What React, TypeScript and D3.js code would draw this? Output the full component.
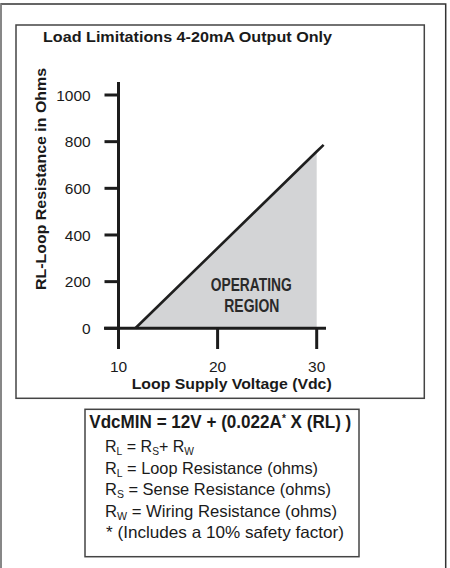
import React from 'react';
import * as d3 from 'd3';

const chartTitle = "Load Limitations 4-20mA Output Only";
const yTitle = "RL-Loop Resistance in Ohms";
const xTitle = "Loop Supply Voltage (Vdc)";
const regionLabel = ["OPERATING", "REGION"];

const voltTicks = [10, 20, 30];
const ohmTicks = [0, 200, 400, 600, 800, 1000];

// limit line: volts -> max loop resistance
const limitVolts = [11.7, 30, 30.7];
const limitOhms = [0, 758, 786];
// operating region is shaded up to 30 V only
const regionEnd = 30;

const W = 450;
const H = 568;
const sans = "'Liberation Sans', Arial, sans-serif";

function App() {
    const x = d3.scaleLinear().domain([10, 30]).range([118.5, 316.7]);
    const y = d3.scaleLinear().domain([0, 1000]).range([328.3, 95]);

    const pts = limitVolts.map((v, i) => ({ v, r: limitOhms[i] }));
    const regionPts = pts.filter(d => d.v <= regionEnd);

    const line = d3.line<{ v: number, r: number }>()
        .x(d => x(d.v))
        .y(d => y(d.r));

    const area = d3.area<{ v: number, r: number }>()
        .x(d => x(d.v))
        .y0(y(0))
        .y1(d => y(d.r));

    const axisColor = "#1c1c1c";
    // the reference uses a condensed face, squeeze Liberation Sans to the same widths
    const squeeze = { lengthAdjust: "spacingAndGlyphs" as const };
    const sub = (t: string) => (
        <tspan fontSize="10.5" dy="3">{t}</tspan>
    );

    return (
        <svg width={W} height={H} style={{ position: 'absolute', left: 0, top: 0, background: '#fff' }}>
            {/* outer frame */}
            <path d={`M1,${H} V4 H445.7 V${H}`} fill="none" stroke="#333" strokeWidth="1.5" />
            <line x1="1" y1="4" x2="1" y2={H} stroke="#aaa" strokeWidth="1" />

            {/* chart box */}
            <rect x="16" y="25" width="408.3" height="373.3" fill="none" stroke="#444" strokeWidth="1.5" />

            <text x="43" y="41.5" fontFamily={sans} fontWeight="bold" fontSize="15.5" fill="#1a1a1a" textLength="289" {...squeeze}>{chartTitle}</text>

            {/* operating region */}
            <path d={area(regionPts) || ''} fill="#d3d4d6" />

            {/* axes */}
            <line x1={x(10)} y1="82" x2={x(10)} y2="349" stroke={axisColor} strokeWidth="3" />
            <line x1="104" y1={y(0)} x2="326" y2={y(0)} stroke={axisColor} strokeWidth="3" />
            {ohmTicks.map(t => (
                <g key={t}>
                    <line x1={x(10) - 14} x2={x(10)} y1={y(t)} y2={y(t)} stroke={axisColor} strokeWidth="3" />
                    <text x="90.7" y={y(t)} dy="0.37em" textAnchor="end" fontFamily={sans} fontSize="15.5" fill="#1a1a1a">{t}</text>
                </g>
            ))}
            {voltTicks.map(t => (
                <g key={t}>
                    <line x1={x(t)} x2={x(t)} y1={y(0)} y2="349" stroke={axisColor} strokeWidth="3" />
                    <text x={x(t)} y="372" textAnchor="middle" fontFamily={sans} fontSize="15.5" fill="#1a1a1a">{t}</text>
                </g>
            ))}

            <path d={line(pts) || ''} fill="none" stroke="#1f1f1f" strokeWidth="2.6" />

            <text x="210.7" y="290.7" fontFamily={sans} fontWeight="bold" fontSize="18.5" fill="#2a2a2a" textLength="81" {...squeeze}>{regionLabel[0]}</text>
            <text x="224.3" y="311.7" fontFamily={sans} fontWeight="bold" fontSize="18.5" fill="#2a2a2a" textLength="55" {...squeeze}>{regionLabel[1]}</text>

            <text x="131.7" y="388.5" fontFamily={sans} fontWeight="bold" fontSize="15.5" fill="#1a1a1a" textLength="200" {...squeeze}>{xTitle}</text>
            <text transform="translate(45.5,290) rotate(-90)" fontFamily={sans} fontWeight="bold" fontSize="15.5" fill="#1a1a1a" textLength="222" {...squeeze}>{yTitle}</text>

            {/* formula box */}
            <rect x="85" y="409.3" width="274" height="147.4" fill="none" stroke="#444" strokeWidth="1.5" />
            <text x="89.3" y="428" fontFamily={sans} fontWeight="bold" fontSize="18.5" fill="#1a1a1a" textLength="262" {...squeeze}>
                VdcMIN = 12V + (0.022A<tspan fontSize="11" baselineShift="super">*</tspan> X (RL) )
            </text>
            <g fontFamily={sans} fontSize="16.5" fill="#1a1a1a">
                <text x="105" y="452" textLength="89" {...squeeze}>R{sub("L")}<tspan dy="-3"> = R</tspan>{sub("S")}<tspan dy="-3">+ R</tspan>{sub("W")}</text>
                <text x="105" y="473.5" textLength="213" {...squeeze}>R{sub("L")}<tspan dy="-3"> = Loop Resistance (ohms)</tspan></text>
                <text x="105" y="495" textLength="226" {...squeeze}>R{sub("S")}<tspan dy="-3"> = Sense Resistance (ohms)</tspan></text>
                <text x="105" y="516.5" textLength="232" {...squeeze}>R{sub("W")}<tspan dy="-3"> = Wiring Resistance (ohms)</tspan></text>
                <text x="106" y="538" textLength="238" {...squeeze}>*  (Includes a 10% safety factor)</text>
            </g>
        </svg>
    );
}

export default App;
